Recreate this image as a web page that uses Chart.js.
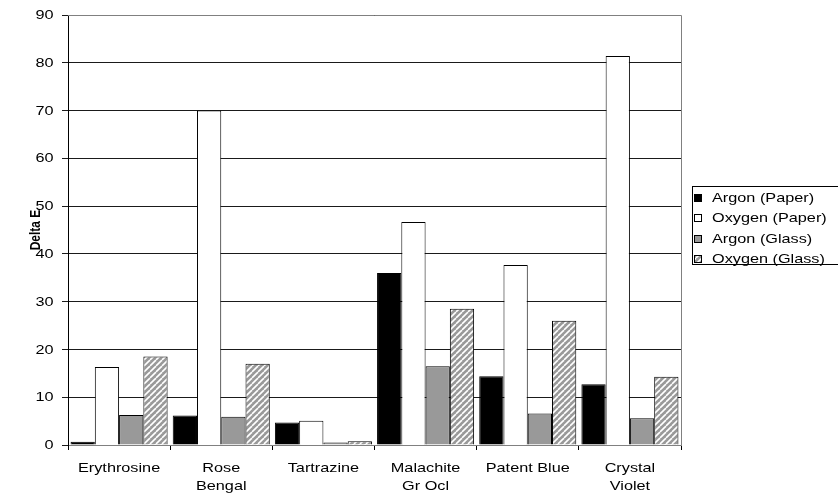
<!DOCTYPE html>
<html><head><meta charset="utf-8">
<script src="https://cdn.jsdelivr.net/npm/chart.js@4"></script>
<style>html,body{margin:0;padding:0;background:#fff}#wrap{width:838px;height:494px}</style>
</head><body><div id="wrap"><canvas id="c" width="838" height="494"></canvas></div>
<script>
const categories = [["Erythrosine"], ["Rose","Bengal"], ["Tartrazine"], ["Malachite","Gr Ocl"], ["Patent Blue"], ["Crystal","Violet"]];
const seriesNames = ["Argon (Paper)", "Oxygen (Paper)", "Argon (Glass)", "Oxygen (Glass)"];
const argonPaper  = [0.7, 6.2, 4.7, 36.0, 14.4, 12.7];
const oxygenPaper = [16.3, 70.0, 5.1, 46.7, 37.7, 81.4];
const argonGlass  = [6.3, 5.9, 0.5, 16.5, 6.6, 5.6];
const oxygenGlass = [18.5, 17.0, 0.8, 28.5, 26.0, 14.3];
const yTicks = [0, 10, 20, 30, 40, 50, 60, 70, 80, 90];
const yTitle = "Delta E";

function hatch() {
  const s = 6, c = document.createElement('canvas');
  c.width = s; c.height = s;
  const g = c.getContext('2d');
  g.fillStyle = '#999999'; g.fillRect(0, 0, s, s);
  g.strokeStyle = '#ffffff'; g.lineWidth = 1.6;
  for (let k = -1; k <= 1; k++) {
    g.beginPath(); g.moveTo(k * s, s); g.lineTo(k * s + s, 0); g.stroke();
  }
  return g.createPattern(c, 'repeat');
}
const hatchPat = hatch();
const FONT = "'Liberation Sans', Arial, sans-serif";
const SX = 1.25; // horizontal stretch of text seen in the reference

function stretchedText(ctx, txt, x, y, align) {
  ctx.save();
  ctx.translate(x, y);
  ctx.scale(SX, 1);
  ctx.textAlign = align;
  ctx.fillText(txt, 0, 0);
  ctx.restore();
}

const frame = {
  id: 'frame',
  beforeDatasetsDraw(chart) {
    const {ctx, chartArea: a} = chart;
    ctx.save();
    ctx.strokeStyle = '#808080'; ctx.lineWidth = 1;
    ctx.beginPath();
    ctx.moveTo(a.left, a.top + 0.5); ctx.lineTo(a.right + 0.5, a.top + 0.5);
    ctx.lineTo(a.right + 0.5, a.bottom);
    ctx.stroke();
    ctx.restore();
  },
  afterDraw(chart) {
    const {ctx} = chart;
    const xs = chart.scales.x, ys = chart.scales.y;
    ctx.save();
    ctx.fillStyle = '#000';
    ctx.font = '13px ' + FONT;
    ctx.textBaseline = 'alphabetic';
    // x category labels
    categories.forEach((lines, i) => {
      const cx = xs.getPixelForValue(i);
      lines.forEach((ln, j) => stretchedText(ctx, ln, cx, 472 + j * 17.5, 'center'));
    });
    // y tick labels
    ctx.textBaseline = 'middle';
    yTicks.forEach(v => stretchedText(ctx, String(v), 53.5, ys.getPixelForValue(v) + 0.5, 'right'));
    // y title (rotated)
    ctx.save();
    ctx.translate(39.5, (chart.chartArea.top + chart.chartArea.bottom) / 2);
    ctx.rotate(-Math.PI / 2);
    ctx.scale(1, SX);
    ctx.font = 'bold 12px ' + FONT;
    ctx.textAlign = 'center';
    ctx.textBaseline = 'alphabetic';
    ctx.fillText(yTitle, 0, 0);
    ctx.restore();
    // legend
    const ds = chart.data.datasets;
    const bx = 692.5, by = 186.5, bw = 150, bh = 78;
    ctx.strokeStyle = '#000'; ctx.lineWidth = 1;
    ctx.fillStyle = '#fff';
    ctx.fillRect(bx, by, bw, bh);
    ctx.strokeRect(bx, by, bw, bh);
    ctx.font = '13px ' + FONT;
    ctx.textBaseline = 'middle';
    ds.forEach((d, i) => {
      const y = 198 + i * 20.3;
      ctx.fillStyle = d.backgroundColor;
      ctx.fillRect(694, Math.round(y) - 4, 8, 8);
      ctx.strokeStyle = '#000';
      ctx.strokeRect(694.5, Math.round(y) - 3.5, 7, 7);
      ctx.fillStyle = '#000';
      stretchedText(ctx, d.label, 712, y + 0.5, 'left');
    });
    ctx.restore();
  }
};

const datasetsData = [argonPaper, oxygenPaper, argonGlass, oxygenGlass];
const fills = ['#000000', '#ffffff', '#999999', hatchPat];

new Chart(document.getElementById('c'), {
  type: 'bar',
  data: {
    labels: categories,
    datasets: datasetsData.map((arr, i) => ({
      label: seriesNames[i],
      data: arr,
      backgroundColor: fills[i],
      borderColor: '#000',
      borderWidth: 1,
      borderSkipped: 'bottom',
      categoryPercentage: 0.95,
      barPercentage: 1.0
    }))
  },
  options: {
    responsive: false,
    animation: false,
    layout: {padding: {top: 15, right: 157, left: 0, bottom: 0}},
    plugins: {legend: {display: false}, tooltip: {enabled: false}},
    scales: {
      x: {
        offset: true,
        grid: {offset: true, drawOnChartArea: false, drawTicks: true, tickLength: 5, color: '#000'},
        border: {color: '#808080'},
        ticks: {display: false},
        afterFit(s) { s.height = 49; }
      },
      y: {
        min: 0, max: 90,
        afterBuildTicks(s) { s.ticks = yTicks.map(v => ({value: v})); },
        grid: {color: '#1a1a1a', tickLength: 6, drawTicks: true},
        border: {color: '#000'},
        ticks: {display: false},
        afterFit(s) { s.width = 68; }
      }
    }
  },
  plugins: [frame]
});
</script></body></html>
